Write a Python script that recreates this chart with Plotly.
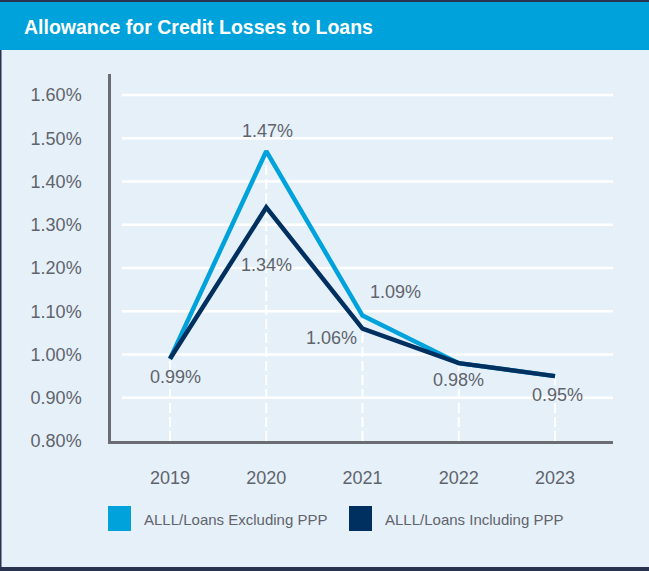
import plotly.graph_objects as go

# ---- data ----
title_text = "Allowance for Credit Losses to Loans"
years = [2019, 2020, 2021, 2022, 2023]
excl_ppp = [0.99, 1.47, 1.09, 0.98, 0.95]
incl_ppp = [0.99, 1.34, 1.06, 0.98, 0.95]
series_names = ["ALLL/Loans Excluding PPP", "ALLL/Loans Including PPP"]
y_ticks = [0.80, 0.90, 1.00, 1.10, 1.20, 1.30, 1.40, 1.50, 1.60]

# ---- style ----
W, H = 649, 571
ML, MR, MT, MB = 111, 36, 74, 130
PW, PH = W - ML - MR, H - MT - MB
LIGHT = "#00a2dc"
NAVY = "#00305f"
BODY = "#e6f0f9"
DARK = "#27334f"
TXT = "#5f646c"
AXIS = "#6a6d72"
FONT = "Liberation Sans, Arial, sans-serif"


def px_x(p):
    return (p - ML) / PW


def px_y(p):
    return (H - MB - p) / PH


fig = go.Figure()
fig.add_trace(go.Scatter(x=years, y=excl_ppp, mode="lines", name=series_names[0],
                         line=dict(color=LIGHT, width=4.5), hoverinfo="skip"))
fig.add_trace(go.Scatter(x=years, y=incl_ppp, mode="lines", name=series_names[1],
                         line=dict(color=NAVY, width=4.5), hoverinfo="skip"))

shapes = []
# page frame pieces
shapes.append(dict(type="rect", xref="paper", yref="paper", x0=px_x(0), x1=px_x(W),
                   y0=px_y(2), y1=px_y(50), fillcolor=LIGHT, line=dict(width=0), layer="below"))
shapes.append(dict(type="rect", xref="paper", yref="paper", x0=px_x(0), x1=px_x(W),
                   y0=px_y(0), y1=px_y(2), fillcolor=DARK, line=dict(width=0), layer="below"))
shapes.append(dict(type="rect", xref="paper", yref="paper", x0=px_x(0), x1=px_x(W),
                   y0=px_y(567), y1=px_y(H), fillcolor=DARK, line=dict(width=0), layer="below"))
shapes.append(dict(type="rect", xref="paper", yref="paper", x0=px_x(0), x1=px_x(1.5),
                   y0=px_y(50), y1=px_y(567), fillcolor=DARK, line=dict(width=0), layer="below"))
# gridlines
for t in y_ticks[1:]:
    shapes.append(dict(type="line", xref="paper", yref="y", x0=11 / PW, x1=1, y0=t, y1=t,
                       line=dict(color="white", width=2.5), layer="below"))
# dashed drop lines
for yr, a, b in zip(years, excl_ppp, incl_ppp):
    shapes.append(dict(type="line", xref="x", yref="y", x0=yr, x1=yr, y0=y_ticks[0], y1=max(a, b),
                       line=dict(color="white", width=2, dash="10px,4px"), layer="below"))
# legend squares
for xs, col in zip([108, 349], [LIGHT, NAVY]):
    shapes.append(dict(type="rect", xref="paper", yref="paper", x0=px_x(xs), x1=px_x(xs + 23),
                       y0=px_y(531), y1=px_y(506), fillcolor=col, line=dict(width=0)))

annotations = []
annotations.append(dict(xref="paper", yref="paper", x=px_x(22), y=px_y(27), text=title_text,
                        showarrow=False, xanchor="left", yanchor="middle",
                        font=dict(family=FONT, size=19.5, color="white", weight="bold")))
for xs, name in zip([142, 383], series_names):
    annotations.append(dict(xref="paper", yref="paper", x=px_x(xs), y=px_y(519), text=name,
                            showarrow=False, xanchor="left", yanchor="middle",
                            font=dict(family=FONT, size=15, color=TXT)))

# data labels: (x, y, xshift, yshift)
label_specs = [
    (years[0], excl_ppp[0], 5, -18),
    (years[1], excl_ppp[1], 1, 20),
    (years[1], incl_ppp[1], 0, -58),
    (years[2], excl_ppp[2], 33, 24),
    (years[2], incl_ppp[2], -31, -9),
    (years[3], excl_ppp[3], 0, -17),
    (years[4], excl_ppp[4], 2, -19),
]
for xv, yv, xs, ys in label_specs:
    annotations.append(dict(x=xv, y=yv, xref="x", yref="y", text=f"{yv:.2f}%", showarrow=False,
                            xshift=xs, yshift=ys, font=dict(family=FONT, size=18, color=TXT)))

fig.update_layout(
    width=W, height=H,
    margin=dict(l=ML, r=MR, t=MT, b=MB, pad=0),
    paper_bgcolor=BODY, plot_bgcolor="rgba(0,0,0,0)",
    showlegend=False,
    shapes=shapes, annotations=annotations,
    font=dict(family=FONT, color=TXT),
)
px_per_year = 96.25
x0 = years[0] - (170 - ML) / px_per_year
fig.update_xaxes(range=[x0, x0 + PW / px_per_year], tickvals=years, ticktext=[str(y) for y in years],
                 showgrid=False, zeroline=False, showline=True, linecolor=AXIS, linewidth=2.5,
                 ticks="", tickfont=dict(size=18, color=TXT), ticklabelstandoff=19, fixedrange=True)
px_per_unit = 432.5
y_top = y_ticks[0] + PH / px_per_unit
fig.update_yaxes(range=[y_ticks[0], y_top], tickvals=y_ticks,
                 ticktext=[f"{t:.2f}%" for t in y_ticks],
                 showgrid=False, zeroline=False, showline=True, linecolor=AXIS, linewidth=2.5,
                 ticks="", tickfont=dict(size=18, color=TXT), ticklabelstandoff=23, fixedrange=True)

fig.write_html("out.html", config={"displayModeBar": False},
               post_script="document.body.style.margin='0';document.body.style.padding='0';"
                           "document.body.style.overflow='hidden';")
